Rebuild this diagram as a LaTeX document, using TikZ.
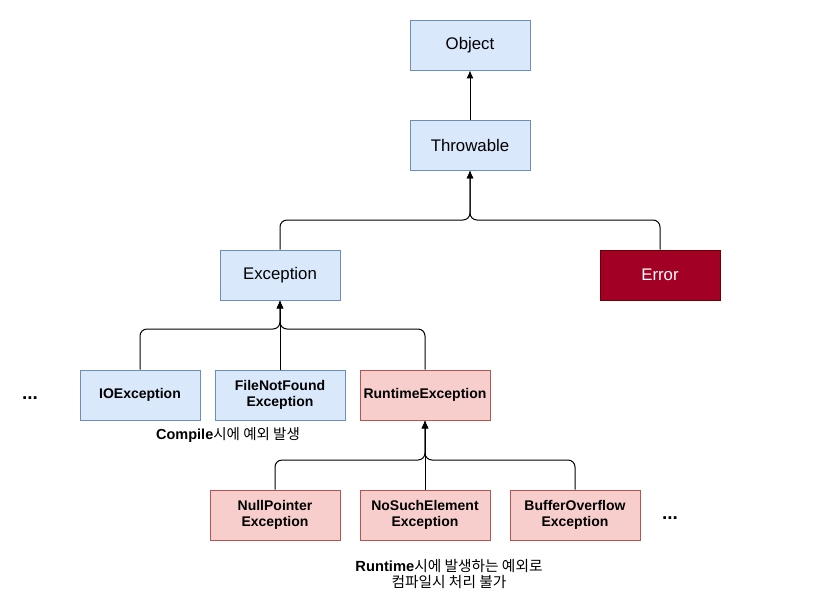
\documentclass[tikz,border=0pt]{standalone}
\usepackage{fontspec}
\usetikzlibrary{arrows.meta}
\setmainfont{Liberation Sans}
\newfontfamily\krfont{Noto Sans CJK KR}
\definecolor{bluefill}{HTML}{DAE8FC}
\definecolor{bluedraw}{HTML}{6C8EBF}
\definecolor{redfill}{HTML}{F8CECC}
\definecolor{reddraw}{HTML}{B85450}
\definecolor{errfill}{HTML}{A20025}
\definecolor{errdraw}{HTML}{6F0000}
\begin{document}
\begin{tikzpicture}[>={Latex[length=8pt,width=7pt]}, x=1pt, y=-1pt,
  box/.style={draw, line width=0.8pt, minimum width=120pt, minimum height=50pt, inner sep=0pt, align=center, font=\fontsize{16.8}{19}\selectfont},
  smallbox/.style={box, minimum width=130pt, font=\fontsize{14}{16}\selectfont\bfseries},
  blue/.style={fill=bluefill, draw=bluedraw},
  red/.style={fill=redfill, draw=reddraw},
  edge/.style={->, line width=1pt, rounded corners=7pt}]
\useasboundingbox (0,0) rectangle (814,614);
\node (object)    at (470, 45) [box,blue] {Object};
\node (throwable) at (470,145) [box,blue] {Throwable};
\node (exception) at (280,275) [box,blue] {Exception};
\node (error)     at (660,275) [box,fill=errfill,draw=errdraw,text=white] {Error};
\node (io)        at (140,395) [smallbox,blue,minimum width=120pt] {IOException};
\node (fnf)       at (280,395) [smallbox,blue] {FileNotFound\\Exception};
\node (runtime)   at (425,395) [smallbox,red] {RuntimeException};
\node (npe)       at (275,515) [smallbox,red] {NullPointer\\Exception};
\node (nse)       at (425,515) [smallbox,red] {NoSuchElement\\Exception};
\node (bof)       at (575,515) [smallbox,red] {BufferOverflow\\Exception};
\node (dots1)     at (30,398)  [font=\fontsize{19}{19}\selectfont\bfseries] {...};
\node (dots2)     at (670,518) [font=\fontsize{19}{19}\selectfont\bfseries] {...};
\node (compile)   at (228,435) [font=\fontsize{14.5}{16}\selectfont] {\textbf{Compile}{\krfont 시에 예외 발생}};
\node (note)      at (449,574) [align=center, font=\fontsize{14.7}{16}\selectfont] {\textbf{Runtime}{\krfont 시에 발생하는 예외로}\\{\krfont 컴파일시 처리 불가}};
\coordinate (bus1) at (470,220);
\coordinate (bus2) at (280,329);
\coordinate (bus3) at (425,460);
\draw [edge] (throwable) -- (object);
\draw [edge] (exception.north) |- (bus1) -- (throwable.south);
\draw [edge] (error.north) |- (bus1) -- (throwable.south);
\draw [edge] (io.north) |- (bus2) -- (exception.south);
\draw [edge] (fnf.north) -- (exception.south);
\draw [edge] (runtime.north) |- (bus2) -- (exception.south);
\draw [edge] (npe.north) |- (bus3) -- (runtime.south);
\draw [edge] (nse.north) -- (runtime.south);
\draw [edge] (bof.north) |- (bus3) -- (runtime.south);
\end{tikzpicture}
\end{document}
